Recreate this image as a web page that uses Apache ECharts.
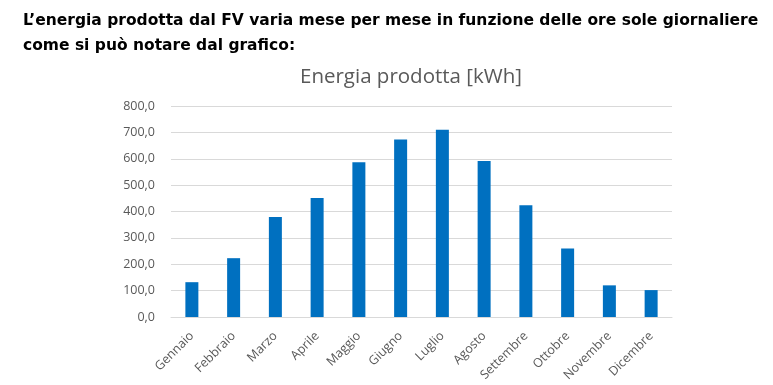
<!DOCTYPE html>
<html>
<head>
<meta charset="utf-8">
<script src="https://cdn.jsdelivr.net/npm/echarts@6/dist/echarts.min.js"></script>
<style>
html,body{margin:0;padding:0;background:#fff;}
#c{width:773px;height:385px;}
</style>
</head>
<body>
<div id="c"></div>
<script>
const categories = ['Gennaio','Febbraio','Marzo','Aprile','Maggio','Giugno','Luglio','Agosto','Settembre','Ottobre','Novembre','Dicembre'];
const energy = [132, 223, 379, 451, 587, 673, 710, 591, 424, 260, 120, 102];
const headerLines = ['L’energia prodotta dal FV varia mese per mese in funzione delle ore sole giornaliere', 'come si può notare dal grafico:'];
const chartTitle = 'Energia prodotta [kWh]';

const chart = echarts.init(document.getElementById('c'));
chart.setOption({
  animation: false,
  backgroundColor: '#ffffff',
  title: [
    {
      text: headerLines.join('\n'),
      left: 18, top: 3,
      textStyle: {fontFamily: 'DejaVu Sans', fontWeight: 'bold', fontSize: 15.5, color: '#000', lineHeight: 25}
    },
    {
      text: chartTitle,
      left: 406, top: 62, textAlign: 'center',
      textStyle: {fontFamily: 'Open Sans', fontWeight: 'normal', fontSize: 20.5, color: '#595959'}
    }
  ],
  grid: {left: 171, right: 101, top: 106, bottom: 68, containLabel: false},
  xAxis: {
    type: 'category',
    data: categories,
    axisLine: {lineStyle: {color: '#d9d9d9'}},
    axisTick: {show: false},
    axisLabel: {rotate: 45, color: '#595959', fontFamily: 'Open Sans', fontSize: 12.5, interval: 0, margin: 17}
  },
  yAxis: {
    type: 'value',
    min: 0, max: 800, interval: 100,
    axisLine: {show: false},
    axisTick: {show: false},
    splitLine: {lineStyle: {color: '#d9d9d9', width: 1}},
    axisLabel: {color: '#595959', fontFamily: 'Open Sans', fontSize: 12.5, margin: 16,
      formatter: v => v.toFixed(1).replace('.', ',')}
  },
  series: [{
    type: 'bar',
    data: energy,
    barWidth: 13,
    itemStyle: {color: '#0070c0'}
  }]
});
</script>
</body>
</html>
